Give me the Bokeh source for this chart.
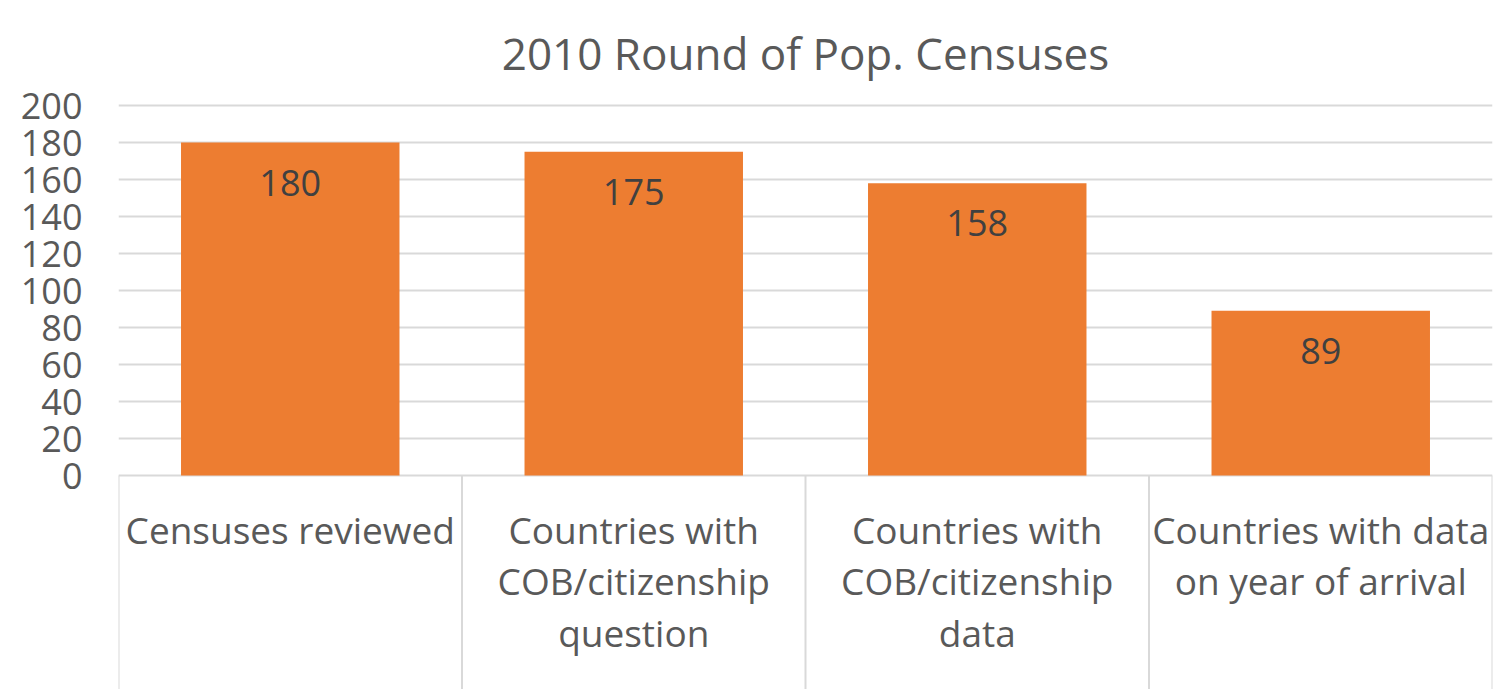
from bokeh.plotting import figure
from bokeh.models import FactorRange, Range1d, FixedTicker, ColumnDataSource
from bokeh.core.properties import value
from bokeh.embed import file_html
from bokeh.resources import INLINE

# ---- data ----
categories = [
    "Censuses reviewed",
    "Countries with\nCOB/citizenship\nquestion",
    "Countries with\nCOB/citizenship\ndata",
    "Countries with data\non year of arrival",
]
counts = [180, 175, 158, 89]
y_ticks = [0, 20, 40, 60, 80, 100, 120, 140, 160, 180, 200]
title_text = "2010 Round of Pop. Censuses"

FONT = "Open Sans"
TXT = "#595959"
GRID = "#D9D9D9"
BAR = "#ED7D31"

W, H = 1494, 689
px_per_unit = 370 / 200.0
y_max = 200 + 2 / px_per_unit
top_border = 103
frame_h = H - top_border
y_min = y_max - frame_h / px_per_unit

p = figure(
    width=W, height=H,
    x_range=FactorRange(*categories, range_padding=0, factor_padding=0),
    y_range=Range1d(y_min, y_max),
    output_backend="svg", toolbar_location=None,
    min_border_left=118, min_border_right=2, min_border_top=top_border, min_border_bottom=0,
)
p.title.text = title_text
p.title.align = "center"
p.title.text_font = FONT
p.title.text_font_size = "44px"
p.title.text_font_style = "normal"
p.title.text_color = TXT
p.title.standoff = 41
p.outline_line_color = None
p.xaxis.visible = False
p.xgrid.visible = False
p.ygrid.ticker = FixedTicker(ticks=y_ticks)
p.ygrid.grid_line_color = GRID
p.ygrid.grid_line_width = 2

ya = p.yaxis[0]
ya.ticker = FixedTicker(ticks=y_ticks)
ya.axis_line_color = None
ya.major_tick_line_color = None
ya.minor_tick_line_color = None
ya.major_label_standoff = 30
ya.major_label_text_font = FONT
ya.major_label_text_font_size = "36px"
ya.major_label_text_color = TXT

src = ColumnDataSource(dict(cat=categories, val=counts, lab=[str(v) for v in counts]))
p.vbar(x="cat", top="val", bottom=0, width=0.636, source=src, fill_color=BAR, line_color=None)
p.text(x="cat", y="val", text="lab", source=src, y_offset=40,
       text_align="center", text_baseline="middle",
       text_font=value(FONT), text_font_size="36px", text_color="#404040")

# category labels below zero line
zeros = [0] * len(categories)
lsrc = ColumnDataSource(dict(cat=categories, y=zeros))
p.text(x="cat", y="y", text="cat", source=lsrc, y_offset=28,
       text_align="center", text_baseline="top", text_line_height=1.01,
       text_font=value(FONT), text_font_size="37px", text_color=TXT)

# category dividers
bx = [(c, -0.5) for c in categories] + [(categories[-1], 0.5)]
p.segment(x0=bx, y0=[0] * len(bx), x1=bx, y1=[y_min] * len(bx), line_color=GRID, line_width=2)

open("out.html", "w").write(file_html(p, INLINE))
